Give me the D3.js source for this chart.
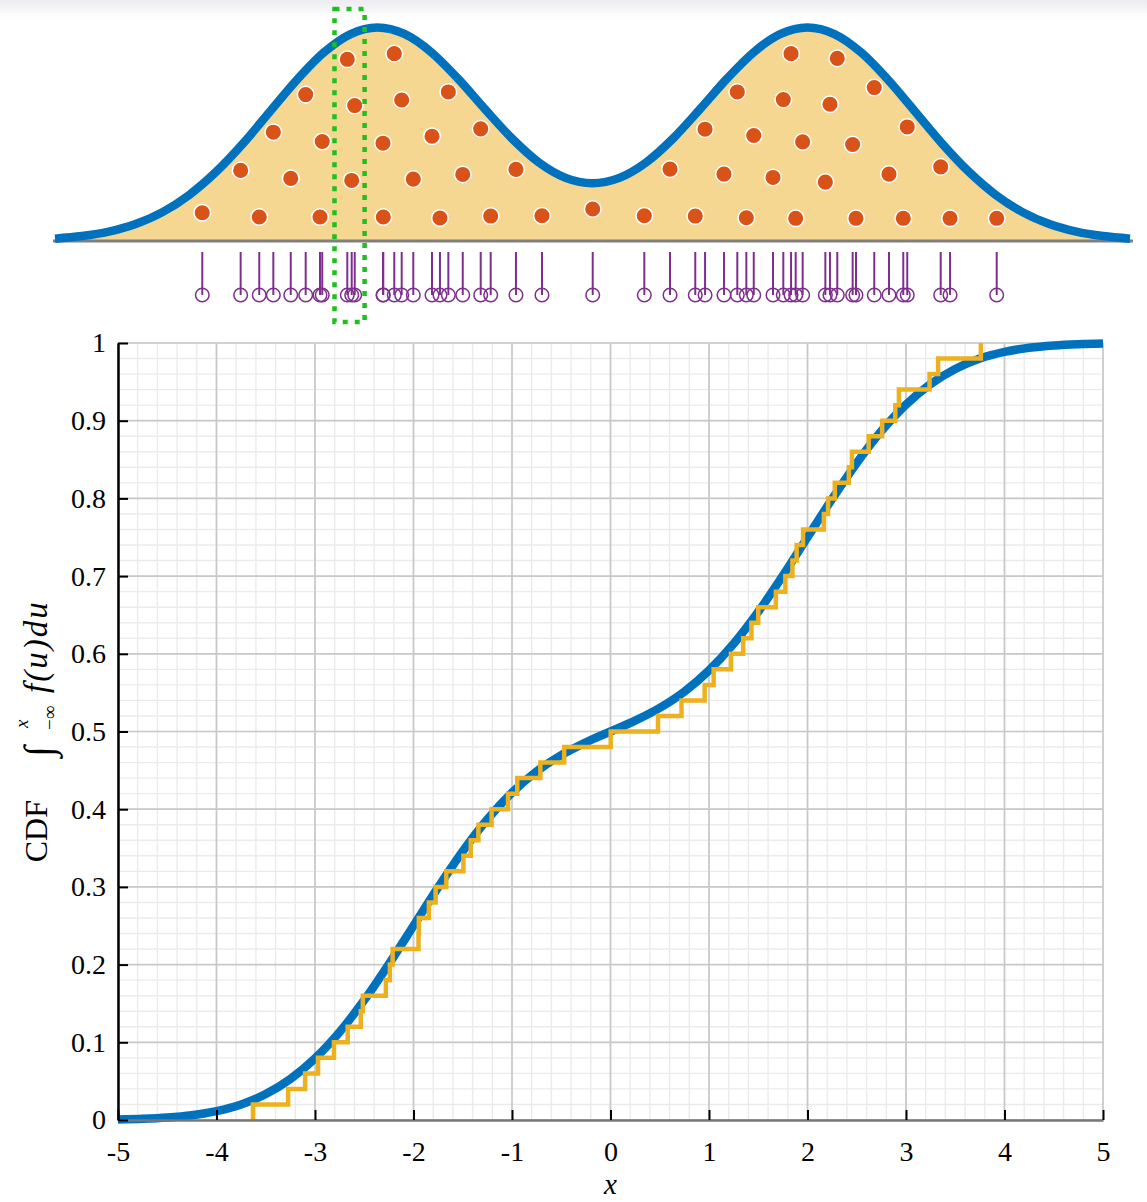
<!DOCTYPE html>
<html>
<head>
<meta charset="utf-8">
<script src="https://cdn.jsdelivr.net/npm/d3@7"></script>
<style>
body { margin:0; background:#fff; }
text { font-family: "Liberation Serif", "DejaVu Serif", serif; fill:#000; }
</style>
</head>
<body>
<script>
// sample values (x)
var samples = [-3.630,-3.273,-3.100,-2.969,-2.807,-2.668,-2.535,-2.514,-2.281,-2.240,-2.212,-1.946,-1.949,-1.844,-1.775,-1.667,-1.493,-1.419,-1.341,-1.207,-1.040,-0.947,-0.712,-0.470,
  0.002,
  0.482,0.721,0.956,1.047,1.223,1.347,1.431,1.500,1.679,1.775,1.847,1.890,1.955,2.166,2.209,2.277,2.420,2.451,2.621,2.758,2.891,2.928,3.239,3.326,3.760];
// height of each dot under the density curve (density units)
var dotHeights = [0.0264,0.0660,0.0224,0.1017,0.0585,0.1368,0.0224,0.0930,0.1698,0.0566,0.1266,0.0224,0.0914,0.1751,0.1318,0.0578,0.0979,0.0215,0.1393,0.0622,0.1048,0.0233,0.0669,0.0236,
  0.0299,
  0.0236,0.0672,0.0233,0.1045,0.0625,0.1393,0.0217,0.0986,0.0594,0.1322,0.1751,0.0212,0.0926,0.0550,0.1278,0.1707,0.0902,0.0212,0.1434,0.0625,0.0212,0.1066,0.0693,0.0212,0.0212];
// x grid of the theoretical curves
var gridX = [-5,-4.75,-4.5,-4.25,-4,-3.75,-3.5,-3.25,-3,-2.75,-2.5,-2.25,-2,-1.75,-1.5,-1.25,-1,-0.75,-0.5,-0.25,0,
  0.25,0.5,0.75,1,1.25,1.5,1.75,2,2.25,2.5,2.75,3,3.25,3.5,3.75,4,4.25,4.5,4.75,5];
// density f(x) read at gridX
var densityVals = [0.0022,0.0046,0.0088,0.0159,0.0270,0.0432,0.0648,0.0913,0.1210,0.1506,0.1761,0.1934,0.1995,0.1935,0.1765,0.1516,0.1232,0.0959,0.0735,0.0590,0.0540,
  0.0590,0.0735,0.0959,0.1232,0.1516,0.1765,0.1935,0.1995,0.1934,0.1761,0.1506,0.1210,0.0913,0.0648,0.0432,0.0270,0.0159,0.0088,0.0046,0.0022];
// cdf read at gridX
var cdfVals = [0.0007,0.0015,0.0031,0.0061,0.0114,0.0200,0.0334,0.0528,0.0793,0.1133,0.1543,0.2007,0.2500,0.2994,0.3459,0.3870,0.4213,0.4487,0.4697,0.4861,0.5000,
  0.5139,0.5303,0.5513,0.5787,0.6130,0.6541,0.7006,0.7500,0.7993,0.8457,0.8867,0.9207,0.9472,0.9666,0.9800,0.9886,0.9939,0.9969,0.9985,0.9993];
var xTicks = [-5,-4,-3,-2,-1,0,1,2,3,4,5];
var yTicks = [0,0.1,0.2,0.3,0.4,0.5,0.6,0.7,0.8,0.9,1];
// highlighted x window (green dotted box)
var highlight = [-2.40,-2.12];

var width = 1147, height = 1202;
var svg = d3.select("body").append("svg")
  .attr("width", width)
  .attr("height", height);

// faint shade at the very top
var defs = svg.append("defs");
var grad = defs.append("linearGradient").attr("id","topshade")
  .attr("x1",0).attr("y1",0).attr("x2",0).attr("y2",1);
grad.append("stop").attr("offset","0%").attr("stop-color","#ececf1");
grad.append("stop").attr("offset","100%").attr("stop-color","#ffffff");
svg.append("rect").attr("x",0).attr("y",0).attr("width",width).attr("height",18)
  .attr("fill","url(#topshade)");

// ---------- top panel: density with dots and stems ----------
var xTop = d3.scaleLinear().domain([-5,5]).range([55,1130]);
var yTop = d3.scaleLinear().domain([0,0.2]).range([241,27]);

var densData = gridX.map(function(x,i){ return {x:x, y:densityVals[i]}; });

svg.append("path")
  .datum(densData)
  .attr("fill","#f5d792")
  .attr("d", d3.area()
    .x(function(d){ return xTop(d.x); })
    .y0(yTop(0))
    .y1(function(d){ return yTop(d.y); })
    .curve(d3.curveMonotoneX));

// baseline
svg.append("line")
  .attr("x1",xTop(-5)-2).attr("x2",xTop(5)+3)
  .attr("y1",yTop(0)).attr("y2",yTop(0))
  .attr("stroke","#7f7f7f").attr("stroke-width",3);

svg.append("path")
  .datum(densData)
  .attr("fill","none")
  .attr("stroke","#0072bd")
  .attr("stroke-width",8.5)
  .attr("d", d3.line()
    .x(function(d){ return xTop(d.x); })
    .y(function(d){ return yTop(d.y); })
    .curve(d3.curveMonotoneX));

// dots under the curve
svg.append("g").selectAll("circle")
  .data(samples)
  .enter().append("circle")
  .attr("cx", function(d){ return xTop(d); })
  .attr("cy", function(d,i){ return yTop(dotHeights[i]); })
  .attr("r", 8.3)
  .attr("fill","#d95319")
  .attr("stroke","#ffffff")
  .attr("stroke-width",1.5);

// stems below the baseline
var stemTop = 252, stemBot = 295;
var stems = svg.append("g");
stems.selectAll("line")
  .data(samples)
  .enter().append("line")
  .attr("x1", function(d){ return xTop(d); })
  .attr("x2", function(d){ return xTop(d); })
  .attr("y1", stemTop).attr("y2", stemBot)
  .attr("stroke","#7e2f8e").attr("stroke-width",2);
stems.selectAll("circle")
  .data(samples)
  .enter().append("circle")
  .attr("cx", function(d){ return xTop(d); })
  .attr("cy", stemBot)
  .attr("r", 6.8)
  .attr("fill","none")
  .attr("stroke","#7e2f8e").attr("stroke-width",1.5);

// green dotted highlight box
svg.append("rect")
  .attr("x", xTop(highlight[0]))
  .attr("y", 9)
  .attr("width", xTop(highlight[1]) - xTop(highlight[0]))
  .attr("height", 313)
  .attr("fill","none")
  .attr("stroke","#1ec01e")
  .attr("stroke-width",4.5)
  .attr("stroke-dasharray","5,7");

// ---------- bottom panel: cdf ----------
var x = d3.scaleLinear().domain([-5,5]).range([118,1103]);
var y = d3.scaleLinear().domain([0,1]).range([1120,343]);

var grid = svg.append("g");
// minor grid
grid.selectAll("line.minx")
  .data(d3.range(-50,51,2).map(function(v){ return v/10; }))
  .enter().append("line")
  .attr("x1", function(d){ return x(d); }).attr("x2", function(d){ return x(d); })
  .attr("y1", y(0)).attr("y2", y(1))
  .attr("stroke","#ebebeb").attr("stroke-width",1.4);
grid.selectAll("line.miny")
  .data(d3.range(0,51).map(function(v){ return v/50; }))
  .enter().append("line")
  .attr("x1", x(-5)).attr("x2", x(5))
  .attr("y1", function(d){ return y(d); }).attr("y2", function(d){ return y(d); })
  .attr("stroke","#ebebeb").attr("stroke-width",1.4);
// major grid
grid.selectAll("line.majx")
  .data(xTicks)
  .enter().append("line")
  .attr("x1", function(d){ return x(d); }).attr("x2", function(d){ return x(d); })
  .attr("y1", y(0)).attr("y2", y(1))
  .attr("stroke","#c9c9c9").attr("stroke-width",1.7);
grid.selectAll("line.majy")
  .data(yTicks)
  .enter().append("line")
  .attr("x1", x(-5)).attr("x2", x(5))
  .attr("y1", function(d){ return y(d); }).attr("y2", function(d){ return y(d); })
  .attr("stroke","#c9c9c9").attr("stroke-width",1.7);

// theoretical cdf
var cdfData = gridX.map(function(v,i){ return {x:v, y:cdfVals[i]}; });
svg.append("path")
  .datum(cdfData)
  .attr("fill","none")
  .attr("stroke","#0072bd")
  .attr("stroke-width",8.5)
  .attr("d", d3.line()
    .x(function(d){ return x(d.x); })
    .y(function(d){ return y(d.y); })
    .curve(d3.curveMonotoneX));

// empirical cdf from the samples
var sorted = samples.slice().sort(d3.ascending);
var n = sorted.length;
var ecdf = [{x:sorted[0], y:0}].concat(sorted.map(function(v,i){ return {x:v, y:(i+1)/n}; }));
svg.append("path")
  .datum(ecdf)
  .attr("fill","none")
  .attr("stroke","#edb120")
  .attr("stroke-width",4.5)
  .attr("d", d3.line()
    .x(function(d){ return x(d.x); })
    .y(function(d){ return y(d.y); })
    .curve(d3.curveStepAfter));

// axes
var xAxis = svg.append("g")
  .attr("transform","translate(0," + y(0) + ")")
  .call(d3.axisBottom(x).tickValues(xTicks).tickFormat(function(d){ return String(d); })
    .tickSizeInner(-10).tickSizeOuter(0).tickPadding(21));
xAxis.select(".domain").attr("stroke","#777").attr("stroke-width",2.5);
xAxis.selectAll(".tick line").attr("stroke","#000").attr("stroke-width",2);
xAxis.selectAll("text").attr("font-size",28).attr("font-family","Liberation Serif");

var yAxis = svg.append("g")
  .attr("transform","translate(" + x(-5) + ",0)")
  .call(d3.axisLeft(y).tickValues(yTicks).tickFormat(function(d){ return String(d); })
    .tickSizeInner(-10).tickSizeOuter(0).tickPadding(12));
yAxis.select(".domain").attr("stroke","#000").attr("stroke-width",2.5);
yAxis.selectAll(".tick line").attr("stroke","#000").attr("stroke-width",2);
yAxis.selectAll("text").attr("font-size",28).attr("font-family","Liberation Serif");

// x label
svg.append("text")
  .attr("x", x(0)).attr("y", 1194)
  .attr("text-anchor","middle")
  .attr("font-size",29)
  .attr("font-style","italic")
  .text("x");

// y label: CDF  ∫_{-∞}^{x} f(u)du
var yl = svg.append("g").attr("transform","translate(47,730) rotate(-90)");
yl.append("text").attr("x",-70).attr("y",0).attr("text-anchor","end")
  .attr("font-size",32).text("CDF");
yl.append("text").attr("x",-27).attr("y",5)
  .attr("font-size",40).attr("font-family","DejaVu Serif").attr("font-weight",200)
  .text("\u222B");
yl.append("text").attr("x",2).attr("y",-19)
  .attr("font-size",19).attr("font-style","italic").text("x");
yl.append("text").attr("x",0).attr("y",9)
  .attr("font-size",19).text("\u2212\u221E");
yl.append("text").attr("x",37).attr("y",0)
  .attr("font-size",33).attr("font-style","italic").attr("letter-spacing",2)
  .text("f(u)du");
</script>
</body>
</html>
